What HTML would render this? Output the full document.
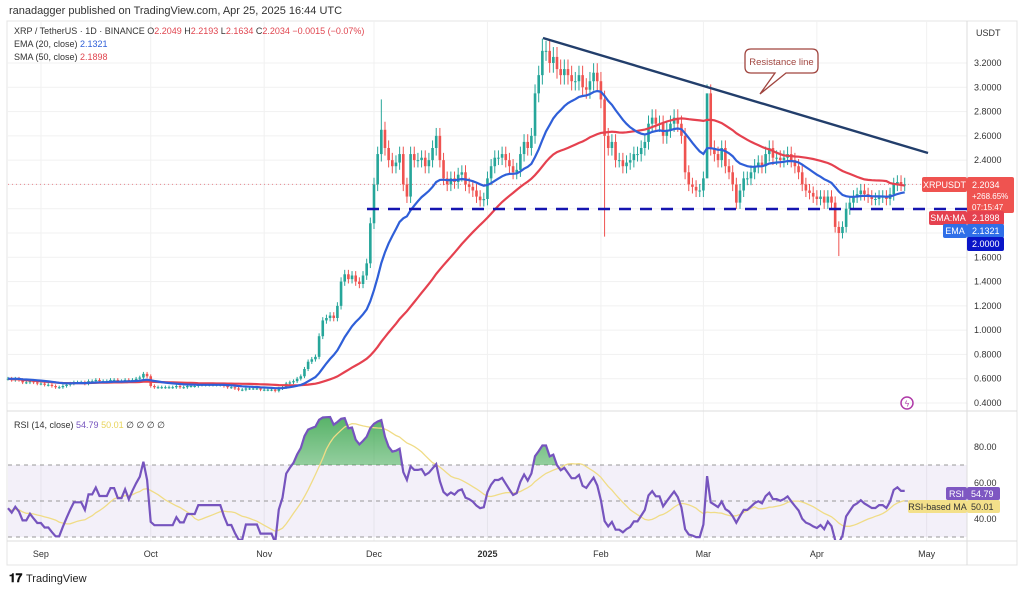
<!DOCTYPE html>
<html><head><meta charset="utf-8"><style>
body{margin:0;background:#fff;font-family:"Liberation Sans",sans-serif;}
svg{display:block}
</style></head><body>
<svg id="c" width="1024" height="592" font-family="Liberation Sans, sans-serif">
<rect x="0" y="0" width="1024" height="592" fill="#fff"/>
<text x="9" y="14" font-size="11" fill="#333">ranadagger published on TradingView.com, Apr 25, 2025 16:44 UTC</text>
<rect x="7" y="21" width="1010" height="544" fill="none" stroke="#e4e4e4"/>
<g id="grid"></g>
<rect x="8" y="465" width="959" height="72" fill="#7e57c2" fill-opacity="0.09"/>
<g id="rsibands"></g>
<line x1="7" y1="411" x2="1017" y2="411" stroke="#ddd"/>
<line x1="7" y1="541" x2="1017" y2="541" stroke="#ddd"/>
<line x1="967" y1="21" x2="967" y2="565" stroke="#ddd"/>
<g id="candles"></g>
<path id="sma" fill="none" stroke="#e5414f" stroke-width="2.2"/>
<path id="ema" fill="none" stroke="#2f5fd8" stroke-width="2.2"/>
<line x1="367" y1="209" x2="967" y2="209" stroke="#1515b0" stroke-width="2.5" stroke-dasharray="12,9"/>
<line x1="543" y1="38" x2="928" y2="153" stroke="#223e6b" stroke-width="2.4"/>
<g>
<path d="M751 49 H812 Q818 49 818 55 V67 Q818 73 812 73 H786 L760 94 L775 73 H751 Q745 73 745 67 V55 Q745 49 751 49 Z" fill="#fff" stroke="#a0453f" stroke-width="1.3"/>
<text x="781.5" y="65" font-size="9.5" fill="#a0453f" text-anchor="middle">Resistance line</text>
</g>
<g id="rsi-g" clip-path="url(#pane)"><defs><linearGradient id="gg" x1="0" y1="0" x2="0" y2="1"><stop offset="0" stop-color="#2ea043" stop-opacity="0.8"/><stop offset="1" stop-color="#2ea043" stop-opacity="0.05"/></linearGradient><clipPath id="ob"><rect x="0" y="400" width="967" height="65"/></clipPath><clipPath id="pane"><rect x="7" y="412" width="960" height="128"/></clipPath></defs>
<path id="rsifill" fill="url(#gg)" clip-path="url(#ob)"/>
<path id="rsima" fill="none" stroke="#f0dc86" stroke-width="1.3"/>
<path id="rsi" fill="none" stroke="#7654be" stroke-width="2.2"/>
</g>
<g id="axes" font-size="9" fill="#333"></g>
<g font-size="9">
<text x="14" y="34" fill="#333">XRP / TetherUS · 1D · BINANCE <tspan fill="#333">O</tspan><tspan fill="#e0454f">2.2049</tspan> H<tspan fill="#e0454f">2.2193</tspan> L<tspan fill="#e0454f">2.1634</tspan> C<tspan fill="#e0454f">2.2034 −0.0015 (−0.07%)</tspan></text>
<text x="14" y="47" fill="#333">EMA (20, close) <tspan fill="#2f5fd8">2.1321</tspan></text>
<text x="14" y="60" fill="#333">SMA (50, close) <tspan fill="#e0454f">2.1898</tspan></text>
<text x="14" y="428" fill="#333">RSI (14, close) <tspan fill="#7654be">54.79</tspan> <tspan fill="#e8d45a">50.01</tspan> ∅ ∅ ∅ ∅</text>
</g>
<g font-size="9">
<rect x="922" y="177" width="45" height="15" rx="2" fill="#ef5350"/><text x="944.5" y="188" fill="#fff" text-anchor="middle">XRPUSDT</text>
<rect x="967" y="177" width="47" height="36" rx="2" fill="#ef5350"/><text x="972" y="188" fill="#fff">2.2034</text><text x="972" y="199" fill="#fff" font-size="8">+268.65%</text><text x="972" y="210" fill="#fff" font-size="8">07:15:47</text>
<rect x="929" y="211" width="38" height="14" rx="2" fill="#e5414f"/><text x="948" y="221" fill="#fff" text-anchor="middle">SMA:MA</text>
<rect x="967" y="211" width="37" height="14" rx="2" fill="#e5414f"/><text x="972" y="221" fill="#fff">2.1898</text>
<rect x="943" y="224" width="24" height="14" rx="2" fill="#2f6fe8"/><text x="955" y="234" fill="#fff" text-anchor="middle">EMA</text>
<rect x="967" y="224" width="37" height="14" rx="2" fill="#2f6fe8"/><text x="972" y="234" fill="#fff">2.1321</text>
<rect x="967" y="237" width="37" height="14" rx="2" fill="#0a16c8"/><text x="972" y="247" fill="#fff">2.0000</text>
<rect x="946" y="487" width="21" height="13" rx="2" fill="#7e57c2"/><text x="956.5" y="497" fill="#fff" text-anchor="middle">RSI</text>
<rect x="967" y="487" width="33" height="13" rx="2" fill="#7e57c2"/><text x="971" y="497" fill="#fff">54.79</text>
<rect x="908" y="500" width="59" height="13" rx="2" fill="#f3e08a"/><text x="937.5" y="510" fill="#333" text-anchor="middle">RSI-based MA</text>
<rect x="967" y="500" width="33" height="13" rx="2" fill="#f3e08a"/><text x="971" y="510" fill="#333">50.01</text>
</g>
<g><circle cx="907" cy="403" r="6" fill="none" stroke="#b03aa8" stroke-width="1.5"/><text x="907" y="406.5" font-size="8" fill="#b03aa8" text-anchor="middle">ϟ</text></g>
<g><text x="9" y="582" font-size="12" font-weight="bold" fill="#111">𝟏𝟕</text><text x="26" y="582" font-size="11" fill="#222">TradingView</text></g>
</svg>
<script>
const closes=[0.60,0.59,0.60,0.59,0.57,0.57,0.58,0.57,0.56,0.56,
0.55,0.55,0.54,0.53,0.53,0.54,0.55,0.56,0.57,0.57,
0.57,0.56,0.58,0.58,0.59,0.58,0.58,0.58,0.59,0.59,
0.58,0.58,0.59,0.58,0.59,0.60,0.61,0.64,0.62,0.54,
0.53,0.53,0.53,0.53,0.53,0.53,0.54,0.53,0.53,0.54,
0.54,0.54,0.55,0.55,0.55,0.55,0.55,0.55,0.55,0.54,
0.53,0.53,0.52,0.51,0.51,0.52,0.52,0.52,0.52,0.51,
0.51,0.51,0.51,0.50,0.52,0.53,0.56,0.57,0.58,0.60,
0.62,0.68,0.74,0.76,0.78,0.95,1.08,1.10,1.12,1.10,
1.20,1.40,1.46,1.42,1.45,1.40,1.38,1.45,1.55,1.88,
2.20,2.45,2.65,2.50,2.40,2.35,2.38,2.45,2.20,2.10,
2.45,2.40,2.40,2.42,2.35,2.40,2.50,2.60,2.40,2.25,
2.20,2.25,2.22,2.28,2.30,2.20,2.18,2.15,2.10,2.07,
2.08,2.25,2.35,2.42,2.42,2.45,2.40,2.35,2.30,2.32,
2.45,2.55,2.50,2.60,2.95,3.10,3.30,3.30,3.20,3.25,
3.15,3.10,3.15,3.10,3.05,3.05,3.10,3.00,2.98,3.05,
3.12,3.05,2.90,2.60,2.50,2.55,2.40,2.40,2.35,2.38,
2.40,2.45,2.45,2.50,2.55,2.70,2.75,2.70,2.70,2.60,
2.65,2.70,2.75,2.70,2.60,2.30,2.20,2.18,2.15,2.15,
2.25,2.95,2.50,2.45,2.40,2.50,2.35,2.30,2.20,2.05,
2.15,2.25,2.25,2.30,2.35,2.38,2.35,2.45,2.50,2.42,
2.42,2.40,2.42,2.45,2.40,2.35,2.30,2.20,2.15,2.13,
2.10,2.08,2.10,2.05,2.10,2.05,1.85,1.80,1.85,2.00,
2.05,2.10,2.12,2.15,2.12,2.10,2.08,2.08,2.10,2.10,
2.08,2.12,2.20,2.22,2.20,2.20];
const extremeDays=[102,146,163,191,227];
const extremeVals=[2.90,3.40,1.77,3.00,1.61];
const priceTicks=[3.2,3.0,2.8,2.6,2.4,1.6,1.4,1.2,1.0,0.8,0.6,0.4];
const gridTicks=[3.2,3.0,2.8,2.6,2.4,2.2,2.0,1.8,1.6,1.4,1.2,1.0,0.8,0.6,0.4];
const rsiTicks=[80,60,40];
const monthLabels=["Sep","Oct","Nov","Dec","2025","Feb","Mar","Apr","May"];
const monthDays=[9,39,70,100,131,162,190,221,251];

const NS="http://www.w3.org/2000/svg";
const X=i=>8+i*3.66;
const Y=p=>403-(p-0.4)*121.43;
const RY=v=>501-(v-50)*1.8;
function mk(tag,attrs,parent){const e=document.createElementNS(NS,tag);for(const k in attrs)e.setAttribute(k,attrs[k]);parent.appendChild(e);return e;}
const grid=document.getElementById('grid'),axes=document.getElementById('axes');
gridTicks.forEach(t=>{const l=mk('line',{x1:7,x2:967,y1:Y(t),y2:Y(t),stroke:'#f1f1f1'},grid);

});
monthDays.forEach(d=>{const l=mk('line',{x1:X(d),x2:X(d),y1:21,y2:541,stroke:'#f1f1f1'},grid);

});
priceTicks.forEach(t=>{const e=mk('text',{x:974,y:Y(t)+3},axes);e.textContent=t.toFixed(4);

});
const u=mk('text',{x:976,y:36},axes);u.textContent='USDT';


rsiTicks.forEach(t=>{const e=mk('text',{x:974,y:RY(t)+3},axes);e.textContent=t.toFixed(2);

});
monthLabels.forEach((m,i)=>{const e=mk('text',{x:X(monthDays[i]),y:557,'text-anchor':'middle','font-weight':m==='2025'?'bold':'normal'},axes);e.textContent=m;

});
const rb=document.getElementById('rsibands');
[70,50,30].forEach(v=>{const l=mk('line',{x1:8,x2:967,y1:RY(v),y2:RY(v),stroke:'#999','stroke-dasharray':'4,4'},rb);

});
const pl=mk('line',{x1:8,x2:922,y1:Y(closes[closes.length-1]),y2:Y(closes[closes.length-1]),stroke:'#e5414f','stroke-dasharray':'1,3','stroke-opacity':0.6},grid);


const cg=document.getElementById('candles');
closes.forEach((c,i)=>{const o=i?closes[i-1]:c;let hi=Math.max(o,c)*1.025,lo=Math.min(o,c)*0.975;
const k=extremeDays.indexOf(i);if(k>=0){if(extremeVals[k]>hi)hi=extremeVals[k];else lo=extremeVals[k];}
const col=c>=o?'#26a69a':'#ef5350';const g=mk('g',{},cg);


mk('line',{x1:X(i),x2:X(i),y1:Y(hi),y2:Y(lo),stroke:col,'stroke-width':1},g);
const t=Math.min(Y(o),Y(c));mk('rect',{x:X(i)-1.3,y:t,width:2.6,height:Math.max(1,Math.abs(Y(o)-Y(c))),fill:col},g);});
let ema=[],e=closes[0];const a=2/21;closes.forEach(c=>{e=a*c+(1-a)*e;ema.push(e);});
let sma=closes.map((c,i)=>{const s=closes.slice(Math.max(0,i-49),i+1);return s.reduce((p,q)=>p+q,0)/s.length;});
const path=(arr,f)=>arr.map((v,i)=>(i?'L':'M')+X(i).toFixed(1)+' '+f(v).toFixed(1)).join(' ');
document.getElementById('ema').setAttribute('d',path(ema,Y));
document.getElementById('sma').setAttribute('d',path(sma,Y));
// RSI (Wilder, seeded with a neutral warm-up)
let ag=0.006,al=0.007,rsi=[46];
for(let i=1;i<closes.length;i++){const d=closes[i]-closes[i-1];const g=Math.max(d,0),l=Math.max(-d,0);
ag=(ag*13+g)/14;al=(al*13+l)/14;
rsi.push(al===0?100:100-100/(1+ag/al));}
const rma=rsi.map((v,i)=>{const s=rsi.slice(Math.max(0,i-13),i+1);return s.reduce((p,q)=>p+q,0)/s.length;});
const rp=path(rsi,RY);
document.getElementById('rsi').setAttribute('d',rp);
document.getElementById('rsima').setAttribute('d',path(rma,RY));
document.getElementById('rsifill').setAttribute('d',rp+' L'+X(rsi.length-1)+' '+RY(70)+' L'+X(0)+' '+RY(70)+' Z');
</script>
</body></html>
